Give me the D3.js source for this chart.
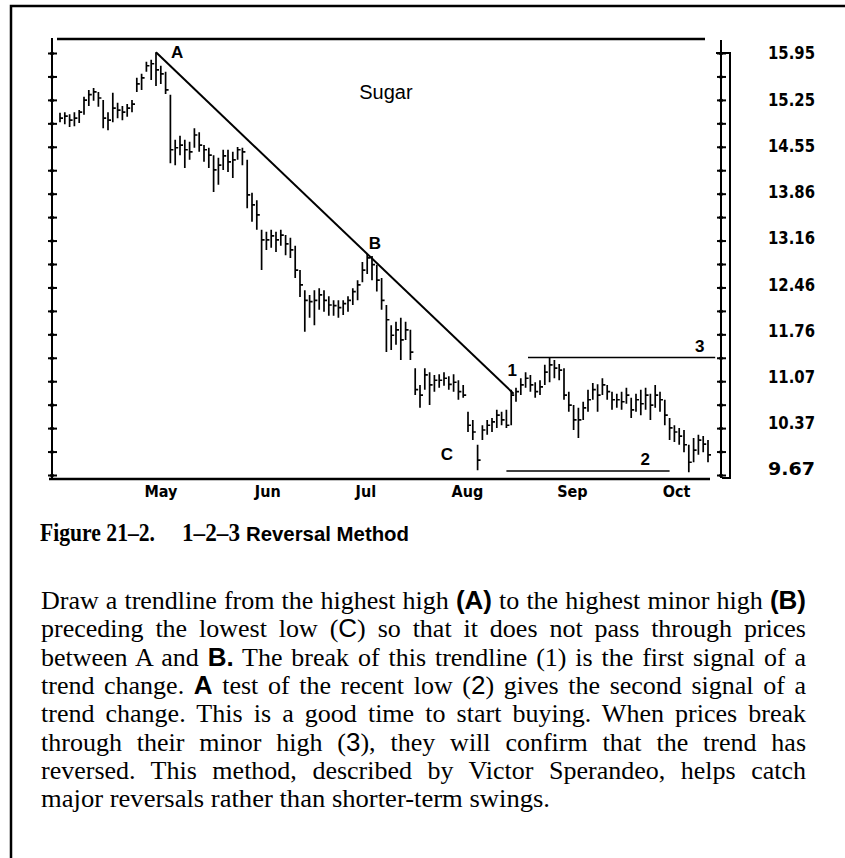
<!DOCTYPE html>
<html>
<head>
<meta charset="utf-8">
<script src="https://cdn.jsdelivr.net/npm/d3@7"></script>
<style>
  body { margin: 0; background: #fff; }
  svg { display: block; }
</style>
</head>
<body>
<div id="chart"></div>
<script>
// Daily sugar bars (high / low / close)
const highs = [15.06,15.07,15.04,15.07,15.10,15.30,15.40,15.43,15.37,15.25,
  15.07,15.36,15.21,15.16,15.19,15.25,15.58,15.64,15.82,15.85,
  15.96,15.76,15.67,15.33,14.66,14.72,14.66,14.63,14.83,14.77,
  14.58,14.54,14.43,14.39,14.51,14.51,14.48,14.55,14.54,14.36,
  13.87,13.76,13.32,13.29,13.32,13.29,13.32,13.24,13.20,13.08,
  12.72,12.42,12.35,12.42,12.45,12.42,12.33,12.27,12.27,12.27,
  12.33,12.45,12.57,12.84,12.96,12.93,12.80,12.60,12.20,11.90,
  11.95,12.01,11.95,11.83,11.26,11.01,11.26,11.20,11.16,11.17,
  11.20,11.14,11.17,11.08,11.01,10.61,10.49,10.12,10.41,10.49,
  10.52,10.64,10.61,10.64,10.94,10.97,11.11,11.20,11.16,11.05,
  11.08,11.31,11.41,11.38,11.32,11.26,10.91,10.71,10.67,10.76,
  10.94,11.04,11.02,11.11,11.01,10.91,10.88,10.91,10.97,10.82,
  10.88,10.94,10.97,10.88,11.01,10.91,10.79,10.52,10.41,10.37,
  10.34,10.12,10.22,10.27,10.25,10.19];
const lows = [14.92,14.89,14.85,14.86,14.91,15.03,15.16,15.24,15.15,14.83,
  14.80,14.92,14.98,14.95,15.00,15.07,15.37,15.40,15.67,15.55,
  15.46,15.49,15.34,14.31,14.28,14.43,14.24,14.36,14.54,14.48,
  14.33,14.24,13.88,13.99,14.21,14.18,14.09,14.36,14.28,13.64,
  13.44,13.32,12.72,13.02,13.05,12.99,13.08,12.94,12.90,12.60,
  12.32,11.80,12.01,11.90,12.13,12.10,12.04,12.04,12.01,12.05,
  12.10,12.20,12.27,12.54,12.66,12.57,12.40,12.13,11.50,11.53,
  11.61,11.38,11.68,11.38,10.86,10.67,10.94,10.71,10.91,10.97,
  11.00,10.94,10.91,10.79,10.82,10.31,10.19,9.74,10.19,10.27,
  10.31,10.37,10.41,10.37,10.41,10.76,10.86,10.97,10.91,10.82,
  10.86,11.01,11.05,11.11,11.08,10.79,10.61,10.34,10.22,10.49,
  10.61,10.79,10.61,10.86,10.79,10.64,10.67,10.64,10.73,10.52,
  10.61,10.56,10.64,10.49,10.67,10.61,10.41,10.19,10.16,10.12,
  10.01,9.71,9.86,9.97,10.01,9.86];
const closes = [14.98,15.01,14.95,14.98,15.07,15.25,15.33,15.37,15.28,14.98,
  14.95,15.13,15.10,15.07,15.13,15.19,15.49,15.58,15.76,15.79,
  15.70,15.64,15.40,14.51,14.54,14.58,14.51,14.48,14.73,14.58,
  14.51,14.43,14.21,14.28,14.42,14.33,14.36,14.51,14.48,13.84,
  13.69,13.54,13.17,13.17,13.23,13.17,13.24,13.11,13.02,12.72,
  12.50,12.27,12.25,12.27,12.35,12.27,12.20,12.19,12.16,12.22,
  12.27,12.40,12.50,12.72,12.90,12.80,12.57,12.27,11.98,11.75,
  11.83,11.68,11.83,11.50,10.94,10.86,11.16,11.01,11.08,11.08,
  11.11,11.02,11.05,10.91,10.86,10.41,10.31,9.89,10.34,10.41,
  10.46,10.56,10.49,10.41,10.86,10.91,11.01,11.11,11.01,10.91,
  10.98,11.20,11.31,11.26,11.23,10.86,10.71,10.49,10.49,10.67,
  10.79,10.94,10.86,11.01,10.91,10.79,10.79,10.76,10.86,10.64,
  10.79,10.73,10.86,10.71,10.86,10.79,10.56,10.37,10.31,10.25,
  10.12,9.86,10.04,10.19,10.13,9.97];

const monthNames = ['May', 'Jun', 'Jul', 'Aug', 'Sep', 'Oct'];
const monthStarts = [18, 41, 62, 82, 104, 126];   // bar index where each month begins
const priceLabels = ['15.95','15.25','14.55','13.86','13.16','12.46','11.76','11.07','10.37','9.67'];

// 1-2-3 annotations (bar index / price)
const trendA = 20, trendB = 64, trendEnd = 94.5;
const minorHigh = 11.42, minorHighSpan = [97.5, 136.5];
const recentLow = 9.73, recentLowSpan = [93, 127];
const notes = [
  { t: 'A', i: 24.4, p: 15.96 },
  { t: 'B', i: 65.6, p: 13.12 },
  { t: 'C', i: 80.6, p: 9.98 },
  { t: '1', i: 94.2, p: 11.23 },
  { t: '2', i: 121.9, p: 9.91 },
  { t: '3', i: 133.3, p: 11.59 }
];

const W = 845, H = 858;
const svg = d3.select('#chart').append('svg').attr('width', W).attr('height', H);

// page frame
svg.append('rect').attr('x', 11).attr('y', 6).attr('width', 900).attr('height', 900)
  .attr('fill', 'none').attr('stroke', '#000').attr('stroke-width', 2.5);

const x = d3.scaleLinear().domain([0, highs.length - 1]).range([60, 708]);
const y = d3.scaleLinear().domain([9.67, 15.95]).range([475, 53]);
const yLabel = d3.scaleLinear().domain([9.67, 15.95]).range([469, 53]);
const tickVals = d3.range(19).map(k => 9.67 + k * (15.95 - 9.67) / 18);

const sans = '"Liberation Sans", Arial, sans-serif';
const serif = '"Liberation Serif", "Times New Roman", serif';
const cond = '"DejaVu Sans Condensed", "DejaVu Sans", sans-serif';

// top and bottom frame lines of the plot
svg.append('line').attr('x1', 57).attr('x2', 705).attr('y1', 39).attr('y2', 39)
  .attr('stroke', '#000').attr('stroke-width', 2.5);
svg.append('line').attr('x1', 49).attr('x2', 710).attr('y1', 479).attr('y2', 479)
  .attr('stroke', '#000').attr('stroke-width', 2.5);

// axes with ticks on both sides
function crossAxis(xPos, top) {
  const g = svg.append('g').attr('transform', `translate(${xPos},0)`);
  g.append('g').call(d3.axisLeft(y).tickValues(tickVals).tickSize(4).tickSizeOuter(0).tickFormat(''));
  g.append('g').call(d3.axisRight(y).tickValues(tickVals).tickSize(5).tickSizeOuter(0).tickFormat(''));
  g.selectAll('.domain').remove();
  g.selectAll('.tick line').attr('stroke', '#000').attr('stroke-width', 2);
  g.selectAll('.tick').append('circle').attr('r', 1.8).attr('fill', '#000');
  g.append('line').attr('y1', top).attr('y2', 478).attr('stroke', '#000').attr('stroke-width', 2);
}
crossAxis(52, 38);
crossAxis(721, 40);

// outer bracket of the right axis
svg.append('path')
  .attr('d', `M716,${y(15.95)}H730V478H722`)
  .attr('fill', 'none').attr('stroke', '#000').attr('stroke-width', 2);

// price labels
svg.append('g').selectAll('text').data(priceLabels).enter().append('text')
  .attr('x', 768).attr('y', d => yLabel(+d))
  .attr('dy', '0.36em')
  .attr('textLength', 47).attr('lengthAdjust', 'spacingAndGlyphs')
  .style('font-family', cond).style('font-weight', 'bold').style('font-size', '18px')
  .text(d => d);

// month labels
svg.append('g').selectAll('text').data(monthNames).enter().append('text')
  .attr('x', (d, i) => x(monthStarts[i]) - 2).attr('y', 497)
  .style('font-family', cond).style('font-weight', 'bold').style('font-size', '16px')
  .text(d => d);

// bars
const idx = d3.range(highs.length);
svg.append('g').selectAll('path').data(idx).enter().append('path')
  .attr('d', i => `M${x(i)},${y(highs[i])}V${y(lows[i])}M${x(i)},${y(closes[i])}h3`)
  .attr('fill', 'none').attr('stroke', '#000').attr('stroke-width', 1.7);

// trendline A -> B, extended to the break
const slope = (highs[trendB] - highs[trendA]) / (trendB - trendA);
svg.append('line')
  .attr('x1', x(trendA)).attr('y1', y(highs[trendA]))
  .attr('x2', x(trendEnd)).attr('y2', y(highs[trendA] + slope * (trendEnd - trendA)))
  .attr('stroke', '#000').attr('stroke-width', 2);

svg.append('line')
  .attr('x1', x(minorHighSpan[0])).attr('x2', x(minorHighSpan[1]))
  .attr('y1', y(minorHigh)).attr('y2', y(minorHigh))
  .attr('stroke', '#000').attr('stroke-width', 1.5);
svg.append('line')
  .attr('x1', x(recentLowSpan[0])).attr('x2', x(recentLowSpan[1]))
  .attr('y1', y(recentLow)).attr('y2', y(recentLow))
  .attr('stroke', '#000').attr('stroke-width', 1.5);

svg.append('g').selectAll('text').data(notes).enter().append('text')
  .attr('x', d => x(d.i)).attr('y', d => y(d.p))
  .attr('text-anchor', 'middle').attr('dy', '0.36em')
  .style('font-family', sans).style('font-weight', 'bold').style('font-size', '17px')
  .text(d => d.t);

svg.append('text').attr('x', x(67.9)).attr('y', y(15.38)).attr('dy', '0.36em')
  .attr('text-anchor', 'middle')
  .style('font-family', sans).style('font-size', '20px')
  .text('Sugar');

// caption
svg.append('text').attr('x', 40).attr('y', 541)
  .attr('textLength', 115).attr('lengthAdjust', 'spacingAndGlyphs')
  .style('font-family', serif).style('font-weight', 'bold').style('font-size', '26px')
  .text('Figure 21–2.');
svg.append('text').attr('x', 182).attr('y', 541)
  .attr('textLength', 58).attr('lengthAdjust', 'spacingAndGlyphs')
  .style('font-family', serif).style('font-weight', 'bold').style('font-size', '25px')
  .text('1–2–3');
svg.append('text').attr('x', 246).attr('y', 541)
  .attr('textLength', 163).attr('lengthAdjust', 'spacingAndGlyphs')
  .style('font-family', sans).style('font-weight', 'bold').style('font-size', '21px')
  .text('Reversal Method');

// body text, one SVG line each, justified
const lines = [
  [['Draw a trendline from the highest high ', 0], ['(A)', 1], [' to the highest minor high ', 0], ['(B)', 1]],
  [['preceding the lowest low (', 0], ['C', 2], [') so that it does not pass through prices', 0]],
  [['between A and ', 0], ['B.', 1], [' The break of this trendline (1) is the first signal of a', 0]],
  [['trend change. ', 0], ['A', 1], [' test of the recent low (', 0], ['2', 2], [') gives the second signal of a', 0]],
  [['trend change. This is a good time to start buying. When prices break', 0]],
  [['through their minor high (', 0], ['3', 2], ['), they will confirm that the trend has', 0]],
  [['reversed. This method, described by Victor Sperandeo, helps catch', 0]],
  [['major reversals rather than shorter-term swings.', 0]]
];
const fonts = [[serif, 'normal'], [sans, 'bold'], [sans, 'normal']];
lines.forEach((segs, li) => {
  const t = svg.append('text').attr('x', 41).attr('y', 609 + li * 28.3)
    .style('font-size', '26px').style('font-family', serif);
  segs.forEach(s => {
    t.append('tspan').style('font-family', fonts[s[1]][0]).style('font-weight', fonts[s[1]][1]).text(s[0]);
  });
  const target = li < lines.length - 1 ? 765 : 509;
  const len = t.node().getComputedTextLength();
  const spaces = segs.map(s => s[0]).join('').split(' ').length - 1;
  if (li < lines.length - 1 && len < target) {
    t.attr('word-spacing', (target - len) / spaces);
  } else {
    t.attr('textLength', target).attr('lengthAdjust', 'spacingAndGlyphs');
  }
});
</script>
</body>
</html>
